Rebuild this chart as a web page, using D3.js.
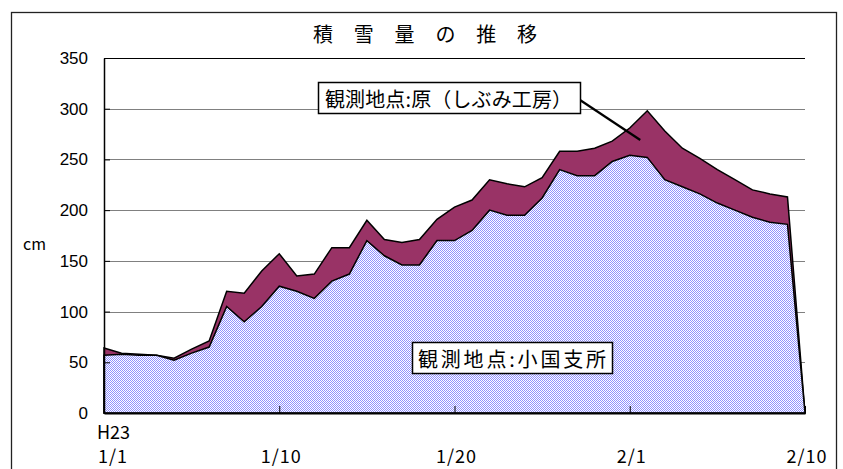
<!DOCTYPE html>
<html>
<head>
<meta charset="utf-8">
<script src="https://cdn.jsdelivr.net/npm/d3@7"></script>
<style>
    body { margin: 0; background: #fff; }
    svg { display: block; }
</style>
</head>
<body>
<div class="graph"></div>
<script>
/*
    Data (cm)
*/
const title_text = "積 雪 量 の 推 移";
const hara_label = "観測地点:原（しぶみ工房）";
const oguni_label = "観測地点:小国支所";

// 原 (しぶみ工房)
const hara_values = [64, 59, 58, 57, 54, 63, 71, 120, 118, 140,
                     157, 135, 137, 163, 163, 190, 171, 168, 171, 191,
                     203, 210, 230, 226, 223, 232, 258, 258, 261, 268,
                     281, 298, 278, 261, 251, 240, 230, 220, 216, 213,
                     0];
// 小国支所
const oguni_values = [57, 58, 57, 57, 52, 59, 65, 105, 90, 105,
                      125, 120, 113, 130, 137, 170, 155, 146, 146, 170,
                      170, 180, 200, 195, 195, 212, 240, 234, 234, 248,
                      254, 252, 230, 223, 216, 207, 200, 193, 188, 186,
                      0];

const x_tick_index = [0, 10, 20, 30, 40];
const x_tick_labels = ["1/1", "1/10", "1/20", "2/1", "2/10"];
const y_ticks = [0, 50, 100, 150, 200, 250, 300, 350];

/*
    Layout
*/
const width = 843, height = 469;
const plot = { left: 104, right: 805, top: 58, bottom: 413 };
const jp_font = "'Noto Sans CJK JP', 'Noto Sans', sans-serif";

const svg = d3.select(".graph").append("svg")
                .attr("width", width)
                .attr("height", height);

const defs = svg.append("defs");
const dots = defs.append("pattern")
                .attr("id", "dots")
                .attr("patternUnits", "userSpaceOnUse")
                .attr("width", 2)
                .attr("height", 2);
dots.append("rect").attr("width", 2).attr("height", 2).attr("fill", "#ffffff");
dots.append("rect").attr("width", 1).attr("height", 1).attr("fill", "#9090ff");
dots.append("rect").attr("x", 1).attr("y", 1).attr("width", 1).attr("height", 1).attr("fill", "#9090ff");

// outer frame
svg.append("rect")
    .attr("x", 11.5).attr("y", 12.5)
    .attr("width", 825).attr("height", 470)
    .attr("fill", "none")
    .attr("stroke", "#222")
    .attr("stroke-width", 1.3);

/* Scales */
let xScale = d3.scaleLinear()
                .domain([0, hara_values.length - 1])
                .range([plot.left, plot.right]);

let yScale = d3.scaleLinear()
                .domain([0, 350])
                .range([plot.bottom, plot.top]);

/* Gridlines */
svg.append("g")
    .selectAll("line")
    .data(y_ticks.filter(d => d > 0))
    .enter().append("line")
    .attr("x1", plot.left).attr("x2", plot.right)
    .attr("y1", d => Math.round(yScale(d)) + 0.5)
    .attr("y2", d => Math.round(yScale(d)) + 0.5)
    .attr("stroke", d => d === 350 ? "#000" : "#808080")
    .attr("stroke-width", 1);

/* Areas */
let area = d3.area()
                .x((d, i) => xScale(i))
                .y0(yScale(0))
                .y1(d => yScale(d));

svg.append("path")
    .datum(hara_values)
    .attr("d", area)
    .attr("fill", "#993366")
    .attr("stroke", "#000")
    .attr("stroke-width", 1.5)
    .attr("stroke-linejoin", "miter");

svg.append("path")
    .datum(oguni_values)
    .attr("d", area)
    .attr("fill", "url(#dots)")
    .attr("stroke", "#000")
    .attr("stroke-width", 1.5)
    .attr("stroke-linejoin", "miter");

/* Axes */
let yAxis = d3.axisLeft(yScale)
                .tickValues(y_ticks)
                .tickSizeInner(-6)
                .tickSizeOuter(0)
                .tickPadding(16)
                .tickFormat(d3.format("d"));

let xAxis = d3.axisBottom(xScale)
                .tickValues(x_tick_index)
                .tickSizeInner(-7)
                .tickSizeOuter(0)
                .tickFormat("");

let y_g = svg.append("g")
    .attr("transform", `translate(${plot.left},0)`)
    .call(yAxis);
y_g.select(".domain").attr("stroke", "#000").attr("stroke-width", 1.5);
y_g.selectAll("line").attr("stroke", "#000");
y_g.selectAll("text")
    .attr("font-family", "'Liberation Sans', Arial, sans-serif")
    .attr("font-size", 17)
    .attr("fill", "#000");

let x_g = svg.append("g")
    .attr("transform", `translate(0,${plot.bottom})`)
    .call(xAxis);
x_g.select(".domain").attr("stroke", "#000").attr("stroke-width", 2);
x_g.selectAll("line").attr("stroke", "#000");

// category labels
svg.append("g")
    .selectAll("text")
    .data(x_tick_index)
    .enter().append("text")
    .attr("x", (d, i) => i === 0 ? 98 : xScale(d) + 2)
    .attr("y", 455)
    .attr("text-anchor", (d, i) => i === 0 ? "start" : "middle")
    .attr("dominant-baseline", "central")
    .attr("font-family", jp_font)
    .attr("font-size", 18)
    .attr("letter-spacing", 1)
    .text((d, i) => x_tick_labels[i]);

svg.append("text")
    .attr("x", 97).attr("y", 431)
    .attr("dominant-baseline", "central")
    .attr("font-family", jp_font)
    .attr("font-size", 18)
    .text("H23");

svg.append("text")
    .attr("x", 23).attr("y", 243)
    .attr("dominant-baseline", "central")
    .attr("font-family", jp_font)
    .attr("font-size", 16)
    .text("cm");

/* Title */
svg.append("text")
    .attr("x", 313).attr("y", 33)
    .attr("dominant-baseline", "central")
    .attr("font-family", jp_font)
    .attr("font-size", 20)
    .attr("textLength", 224)
    .attr("lengthAdjust", "spacing")
    .text(title_text);

/* Annotations */
svg.append("line")
    .attr("x1", 580).attr("y1", 100)
    .attr("x2", xScale(30.6)).attr("y2", 140)
    .attr("stroke", "#000")
    .attr("stroke-width", 2.2);

function label_box(x, y, w, h, txt, tx, tlen) {
    svg.append("rect")
        .attr("x", x + 0.5).attr("y", y + 0.5)
        .attr("width", w).attr("height", h)
        .attr("fill", "#fff")
        .attr("stroke", "#000")
        .attr("stroke-width", 1.5);
    svg.append("text")
        .attr("x", tx).attr("y", y + h / 2 + 1)
        .attr("dominant-baseline", "central")
        .attr("font-family", jp_font)
        .attr("font-size", 20)
        .attr("textLength", tlen)
        .attr("lengthAdjust", "spacing")
        .text(txt);
}

label_box(318, 82, 262, 31, hara_label, 325, 247);
label_box(412, 342, 200, 31, oguni_label, 418, 188);
</script>
</body>
</html>
